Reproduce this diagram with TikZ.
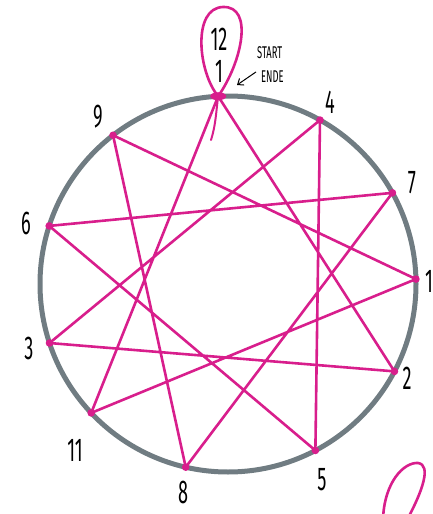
\documentclass[tikz,border=0pt]{standalone}
\usepackage{fontspec}
\usetikzlibrary{arrows.meta}
\newfontfamily\handfont[FakeStretch=0.55]{Fira Sans}
\definecolor{yarn}{RGB}{216,30,140}
\definecolor{ring}{RGB}{112,124,130}

\begin{document}
\begin{tikzpicture}[x=1pt,y=-1pt,
  every node/.style={font=\handfont\fontsize{33}{33}\selectfont,inner sep=0pt},
  yarn line/.style={draw=yarn,line width=2.6pt,line join=round,line cap=round},
  >={Straight Barb[length=5pt,width=8pt]}]
\useasboundingbox (0,0) rectangle (433,514);

\coordinate (C) at (228,284);
\draw[ring,line width=5pt] (C) circle[radius=188];

% nail positions on the ring
\foreach \n/\a in {1/93,4/60.7,7/29,10/1.5,2/-27.7,5/-62.3,8/-103,11/-136.7,3/-161.7,6/162,9/127.7}
  \path (C) ++(-\a:188) coordinate (p\n);

% the yarn, 1 -> 2 -> ... -> 11 -> 1
\draw[yarn line] (p1) \foreach \i in {2,...,11} {-- (p\i)} -- cycle;
\foreach \i in {1,...,11}
  \fill[yarn] (p\i) circle[radius=3.8];

% loop and loose end at the knot
\draw[yarn line] (p1) .. controls (198,72) and (192,8) .. (223,7)
  .. controls (254,6) and (242,62) .. (p1);
\draw[yarn line,line width=2pt] (p1) .. controls (216,112) and (216,124) .. (211,140);
\fill[yarn] (p1) ellipse[x radius=8,y radius=4];

\node (n12) at (219,39) {12};
\node (n1) at (219,71) {1};
\node (n4) at (330,102) {4};
\node (n7) at (412,183) {7};
\node[anchor=west] (n10) at (425,281) {10};
\node (n2) at (407,378) {2};
\node (n5) at (322,480) {5};
\node (n8) at (183,492) {8};
\node (n11) at (75,450) {11};
\node (n3) at (29,348) {3};
\node (n6) at (26,223) {6};
\node (n9) at (98,117) {9};

\node[anchor=west,font=\handfont\fontsize{17}{17}\selectfont] (start) at (257,53) {START};
\node[anchor=west,font=\handfont\fontsize{17}{17}\selectfont] (ende) at (261,77) {ENDE};
\coordinate (knot) at (237,85);
\draw[->,line width=1pt] ([xshift=-5pt,yshift=-1pt]ende.north west) -- (knot);

% next loop, cut off at the bottom
\draw[yarn line] (383,520) .. controls (384,482) and (404,462) .. (418,463)
  .. controls (432,465) and (422,492) .. (407,520);
\end{tikzpicture}
\end{document}
